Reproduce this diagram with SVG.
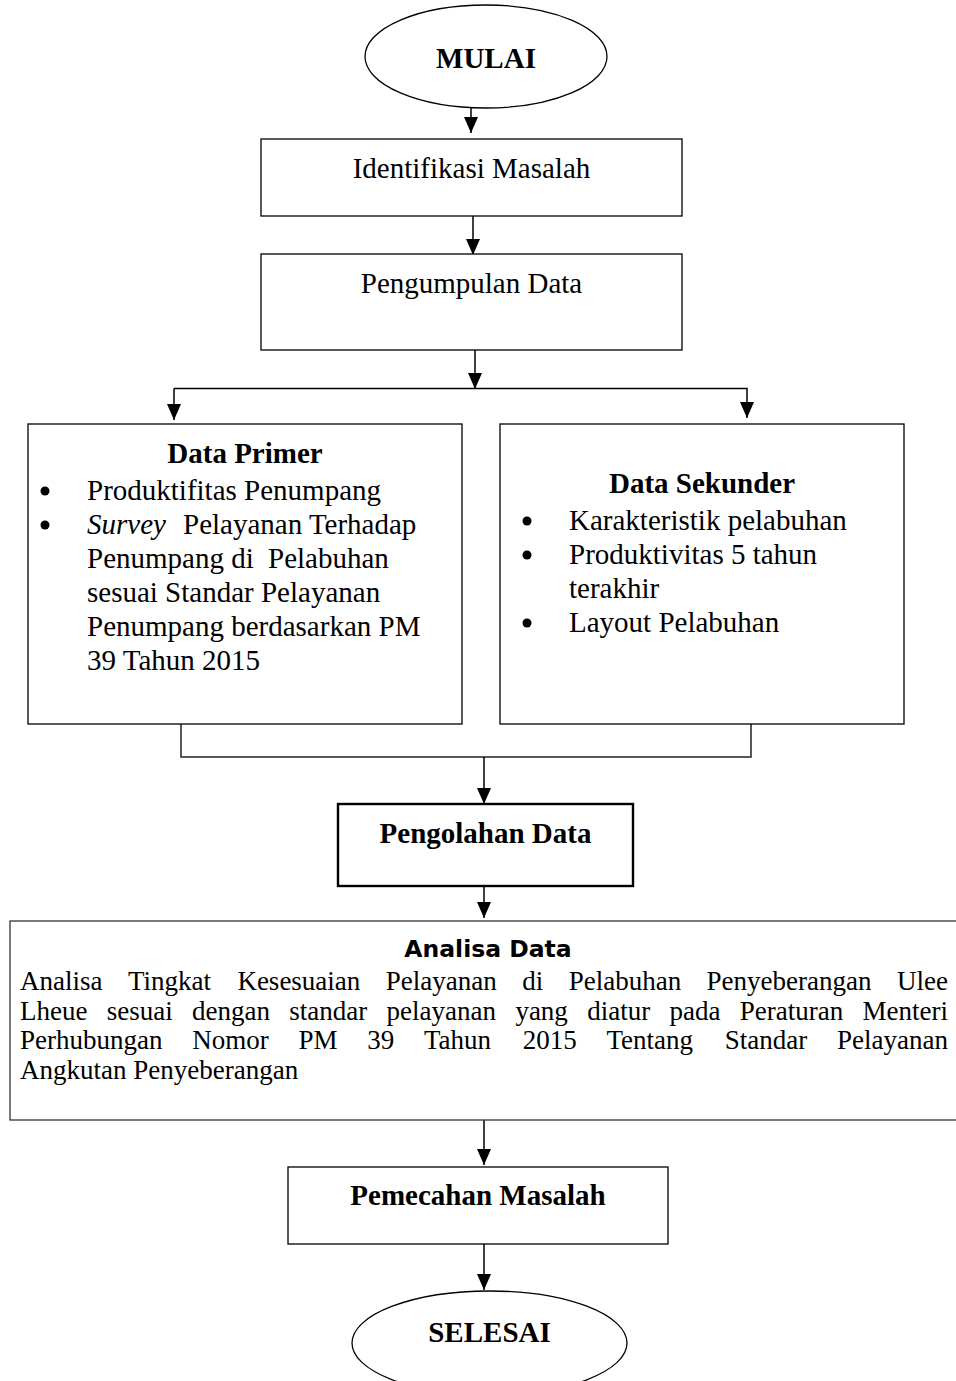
<svg xmlns="http://www.w3.org/2000/svg" width="956" height="1381" viewBox="0 0 956 1381">
<style>
.shape{fill:#fff;stroke:#000;stroke-width:1.3}
.conn{fill:none;stroke:#000;stroke-width:1.5}
.t{font-family:"Liberation Serif","Times New Roman",serif;font-size:29px;fill:#000}
.b{font-weight:bold}
.c{text-anchor:middle}
.bul{fill:#000}
.body{font-family:"Liberation Serif","Times New Roman",serif;font-size:27px;fill:#000}
.sans{font-family:"DejaVu Sans",Verdana,sans-serif;font-weight:bold;font-size:23.5px;fill:#000;text-anchor:middle}
</style>
<defs>
<marker id="ah" markerUnits="userSpaceOnUse" markerWidth="16" markerHeight="14" viewBox="0 0 16 14" refX="16" refY="7" orient="auto">
<path d="M0,0 L16,7 L0,14 z" fill="#000"/>
</marker>
</defs>
<g id="connectors">
<line class="conn" x1="471" y1="107" x2="471" y2="133" marker-end="url(#ah)"/>
<line class="conn" x1="473" y1="216" x2="473" y2="255" marker-end="url(#ah)"/>
<line class="conn" x1="475" y1="350" x2="475" y2="389" marker-end="url(#ah)"/>
<polyline class="conn" points="174,388.5 747,388.5 747,418" marker-end="url(#ah)"/>
<line class="conn" x1="174" y1="388.5" x2="174" y2="420" marker-end="url(#ah)"/>
<polyline class="conn" points="181,724 181,757 751,757 751,724" style="stroke:#222"/>
<line class="conn" x1="484" y1="757" x2="484" y2="804" marker-end="url(#ah)"/>
<line class="conn" x1="484" y1="887" x2="484" y2="918" marker-end="url(#ah)"/>
<line class="conn" x1="484" y1="1120" x2="484" y2="1165" marker-end="url(#ah)"/>
<line class="conn" x1="484" y1="1244" x2="484" y2="1290" marker-end="url(#ah)"/>
</g>
<g id="mulai">
<ellipse class="shape" cx="486" cy="56.5" rx="121" ry="51.5"/>
<text class="t b c" x="486" y="68">MULAI</text>
</g>
<g id="identifikasi">
<rect class="shape" x="261" y="139" width="421" height="77"/>
<text class="t c" x="471.5" y="178">Identifikasi Masalah</text>
</g>
<g id="pengumpulan">
<rect class="shape" x="261" y="254" width="421" height="96"/>
<text class="t c" x="471.5" y="293">Pengumpulan Data</text>
</g>
<g id="data-primer">
<rect class="shape" x="28" y="424" width="434" height="300"/>
<text class="t b c" x="245" y="463">Data Primer</text>
<circle class="bul" cx="45" cy="491" r="4.5"/>
<text class="t" x="87" y="500">Produktifitas Penumpang</text>
<circle class="bul" cx="45" cy="525" r="4.5"/>
<text class="t" y="534"><tspan x="87" font-style="italic">Survey</tspan><tspan x="183">Pelayanan Terhadap</tspan></text>
<text class="t" y="568"><tspan x="87">Penumpang di</tspan><tspan x="268">Pelabuhan</tspan></text>
<text class="t" x="87" y="602">sesuai Standar Pelayanan</text>
<text class="t" x="87" y="636">Penumpang berdasarkan PM</text>
<text class="t" x="87" y="670">39 Tahun 2015</text>
</g>
<g id="data-sekunder">
<rect class="shape" x="500" y="424" width="404" height="300"/>
<text class="t b c" x="702" y="493">Data Sekunder</text>
<circle class="bul" cx="527" cy="521" r="4.5"/>
<text class="t" x="569" y="530">Karakteristik pelabuhan</text>
<circle class="bul" cx="527" cy="555" r="4.5"/>
<text class="t" x="569" y="564">Produktivitas 5 tahun</text>
<text class="t" x="569" y="598">terakhir</text>
<circle class="bul" cx="527" cy="623" r="4.5"/>
<text class="t" x="569" y="632">Layout Pelabuhan</text>
</g>
<g id="pengolahan">
<rect class="shape" x="338" y="804" width="295" height="82" style="stroke-width:2.4"/>
<text class="t b c" x="485.5" y="843">Pengolahan Data</text>
</g>
<g id="analisa">
<rect class="shape" x="10" y="921" width="960" height="199" style="stroke:#333"/>
<text class="sans" x="488" y="957">Analisa Data</text>
<text class="body" y="990"><tspan x="20">Analisa</tspan><tspan x="127.9">Tingkat</tspan><tspan x="237.4">Kesesuaian</tspan><tspan x="385.8">Pelayanan</tspan><tspan x="522.2">di</tspan><tspan x="568.7">Pelabuhan</tspan><tspan x="706.6">Penyeberangan</tspan><tspan x="897">Ulee</tspan></text>
<text class="body" y="1019.5"><tspan x="20">Lheue</tspan><tspan x="106.8">sesuai</tspan><tspan x="192.1">dengan</tspan><tspan x="289.3">standar</tspan><tspan x="386.6">pelayanan</tspan><tspan x="515.4">yang</tspan><tspan x="587.2">diatur</tspan><tspan x="669.5">pada</tspan><tspan x="739.7">Peraturan</tspan><tspan x="862.5">Menteri</tspan></text>
<text class="body" y="1049"><tspan x="20">Perhubungan</tspan><tspan x="192.2">Nomor</tspan><tspan x="298.5">PM</tspan><tspan x="367.3">39</tspan><tspan x="424">Tahun</tspan><tspan x="522.8">2015</tspan><tspan x="606.5">Tentang</tspan><tspan x="724.8">Standar</tspan><tspan x="837">Pelayanan</tspan></text>
<text class="body" x="20" y="1078.5">Angkutan Penyeberangan</text>
</g>
<g id="pemecahan">
<rect class="shape" x="288" y="1167" width="380" height="77"/>
<text class="t b c" x="478" y="1205">Pemecahan Masalah</text>
</g>
<g id="selesai">
<ellipse class="shape" cx="489.5" cy="1343" rx="137.5" ry="52"/>
<text class="t b c" x="489.5" y="1342">SELESAI</text>
</g>
</svg>
